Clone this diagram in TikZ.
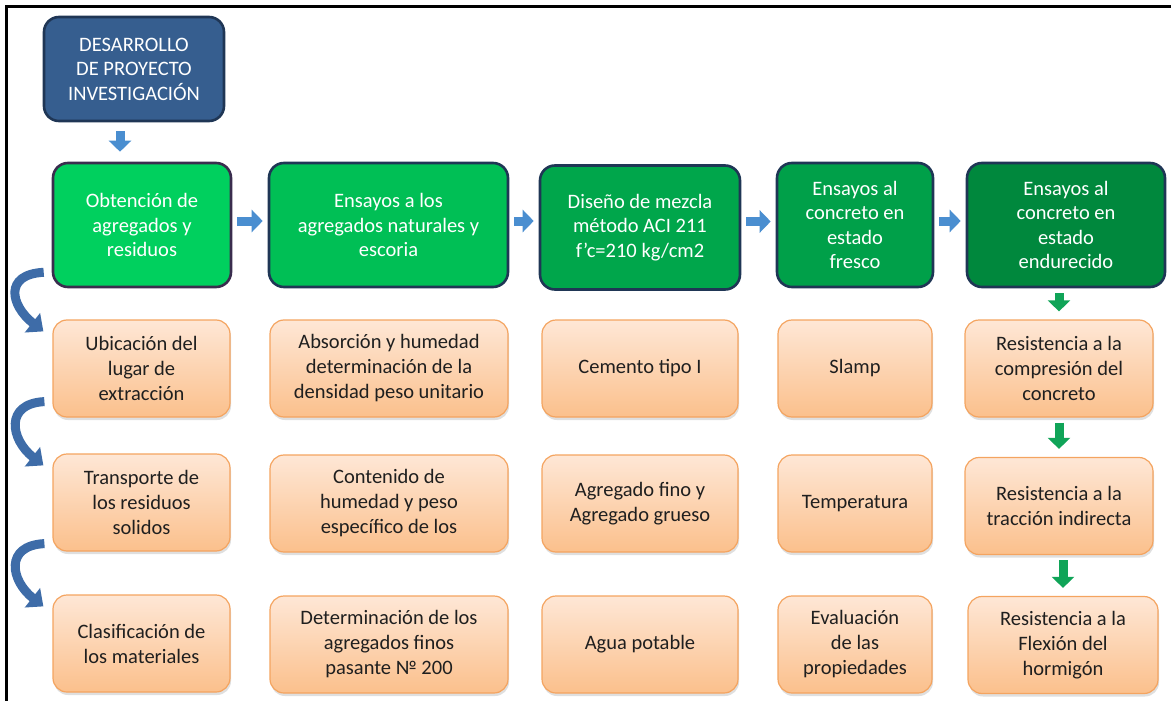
\documentclass[tikz,border=0pt]{standalone}
\usepackage{fontspec}
\setmainfont{Carlito}
\usepackage{xcolor}
\definecolor{vizNavy}{HTML}{365E8F}
\definecolor{vizNavyEdge}{HTML}{1F3655}
\definecolor{vizPurpleEdge}{HTML}{3A2D4E}
\definecolor{vizGreenA}{HTML}{00D05E}
\definecolor{vizGreenB}{HTML}{00BF55}
\definecolor{vizGreenC}{HTML}{00A64B}
\definecolor{vizGreenD}{HTML}{00A049}
\definecolor{vizGreenE}{HTML}{00883D}
\definecolor{vizPeachTop}{HTML}{FEE7D6}
\definecolor{vizPeachBottom}{HTML}{FBC08C}
\definecolor{vizPeachEdge}{HTML}{F4A460}
\definecolor{vizArrowBlue}{HTML}{4A8ED0}
\definecolor{vizCurveBlue}{HTML}{3E6CA8}
\definecolor{vizArrowGreen}{HTML}{10A458}
\usetikzlibrary{arrows.meta,shadows,calc}

\tikzset{
  stagebox/.style={rectangle, rounded corners=15pt, draw=vizNavyEdge, line width=2.6pt,
    text=white, align=center, inner sep=0pt, font=\fontsize{20.5}{24.5}\selectfont,
    minimum height=124pt},
  taskbox/.style={rectangle, rounded corners=14pt, draw=vizPeachEdge, line width=1.2pt,
    top color=vizPeachTop, bottom color=vizPeachBottom, text=black!88, align=center,
    inner sep=0pt, font=\fontsize{20.5}{25}\selectfont, minimum height=97pt,
    drop shadow={opacity=0.25, shadow xshift=1pt, shadow yshift=-3pt}},
  flowarrow/.style={vizArrowBlue, line width=9pt, -{Triangle[width=22pt,length=11pt]},
    shorten <=5pt, shorten >=5pt},
  downarrow/.style={vizArrowGreen, line width=9pt, -{Triangle[width=22pt,length=11pt]},
    shorten <=5pt, shorten >=8pt},
  bendarrow/.style={vizCurveBlue, line width=9pt, -{Triangle[width=24pt,length=14pt]}}
}

\begin{document}
\begin{tikzpicture}[x=1pt,y=-1pt]
  \useasboundingbox (0,0) rectangle (1171,701);
  \draw[line width=2.6pt] (1171,6.5) -- (6.5,6.5) -- (6.5,701);

  \node[stagebox, fill=vizNavy, minimum width=180pt, minimum height=104pt] (P) at (134,69) {DESARROLLO\\DE PROYECTO\\INVESTIGACIÓN};

  \node[stagebox, fill=vizGreenA, draw=vizPurpleEdge, minimum width=178pt] (S1) at (142,225) {Obtención de\\agregados y\\residuos};
  \node[stagebox, fill=vizGreenB, minimum width=239pt] (S2) at (388.5,225) {Ensayos a los\\agregados naturales y\\escoria};
  \node[stagebox, fill=vizGreenC, minimum width=200pt] (S3) at (640,227.5) {Diseño de mezcla\\método ACI 211\\f’c=210 kg/cm2};
  \node[stagebox, fill=vizGreenD, minimum width=156pt] (S4) at (855,225) {Ensayos al\\concreto en\\estado\\fresco};
  \node[stagebox, fill=vizGreenE, minimum width=198pt] (S5) at (1066,225) {Ensayos al\\concreto en\\estado\\endurecido};

  \node[taskbox, minimum width=177pt] (a1) at (141.5,368.5) {Ubicación del\\lugar de\\extracción};
  \node[taskbox, minimum width=177pt] (a2) at (141.5,502.5) {Transporte de\\los residuos\\solidos};
  \node[taskbox, minimum width=177pt] (a3) at (141.5,643.5) {Clasificación de\\los materiales};

  \node[taskbox, minimum width=238pt] (b1) at (389,368.5) {Absorción y humedad\\determinación de la\\densidad peso unitario};
  \node[taskbox, minimum width=238pt] (b2) at (389,503.5) {Contenido de\\humedad y peso\\específico de los};
  \node[taskbox, minimum width=238pt] (b3) at (389,644.5) {Determinación de los\\agregados finos\\pasante № 200};

  \node[taskbox, minimum width=196pt] (c1) at (640,368.5) {Cemento tipo I};
  \node[taskbox, minimum width=196pt] (c2) at (640,503.5) {Agregado fino y\\Agregado grueso};
  \node[taskbox, minimum width=196pt] (c3) at (640,644.5) {Agua potable};

  \node[taskbox, minimum width=154pt] (d1) at (855,368.5) {Slamp};
  \node[taskbox, minimum width=154pt] (d2) at (855,503.5) {Temperatura};
  \node[taskbox, minimum width=154pt] (d3) at (855,644.5) {Evaluación\\de las\\propiedades};

  \node[taskbox, minimum width=188pt] (e1) at (1059,368.5) {Resistencia a la\\compresión del\\concreto};
  \node[taskbox, minimum width=188pt] (e2) at (1059,506) {Resistencia a la\\tracción indirecta};
  \node[taskbox, minimum width=190pt] (e3) at (1063,645) {Resistencia a la\\Flexión del\\hormigón};

  \draw[flowarrow, shorten <=9pt, shorten >=10pt] (P.south -| 120,0) -- (S1.north -| 120,0);
  \draw[flowarrow] ([yshift=4pt]S1.east) -- ([yshift=4pt]S1.east -| S2.west);
  \draw[flowarrow] ([yshift=4pt]S2.east) -- ([yshift=4pt]S2.east -| S3.west);
  \draw[flowarrow] ([yshift=6pt]S3.east) -- ([yshift=6pt]S3.east -| S4.west);
  \draw[flowarrow] ([yshift=4pt]S4.east) -- ([yshift=4pt]S4.east -| S5.west);

  \draw[downarrow] (S5.south -| e1) -- (e1.north);
  \draw[downarrow] (e1.south) -- (e2.north);
  \draw[downarrow] (e2.south -| e3) -- (e3.north);

  \draw[bendarrow] ($(S1.south west)+(-8,-16)$) .. controls ($(S1.south west)+(-48,-14)$) and ($(a1.north west)+(-42,-14)$) .. ($(a1.north west)+(-9,12)$);
  \draw[bendarrow] ($(a1.south west)+(-8,-16)$) .. controls ($(a1.south west)+(-48,-14)$) and ($(a2.north west)+(-42,-14)$) .. ($(a2.north west)+(-9,12)$);
  \draw[bendarrow] ($(a2.south west)+(-8,-8)$) .. controls ($(a2.south west)+(-48,-6)$) and ($(a3.north west)+(-42,-14)$) .. ($(a3.north west)+(-9,12)$);
\end{tikzpicture}
\end{document}
